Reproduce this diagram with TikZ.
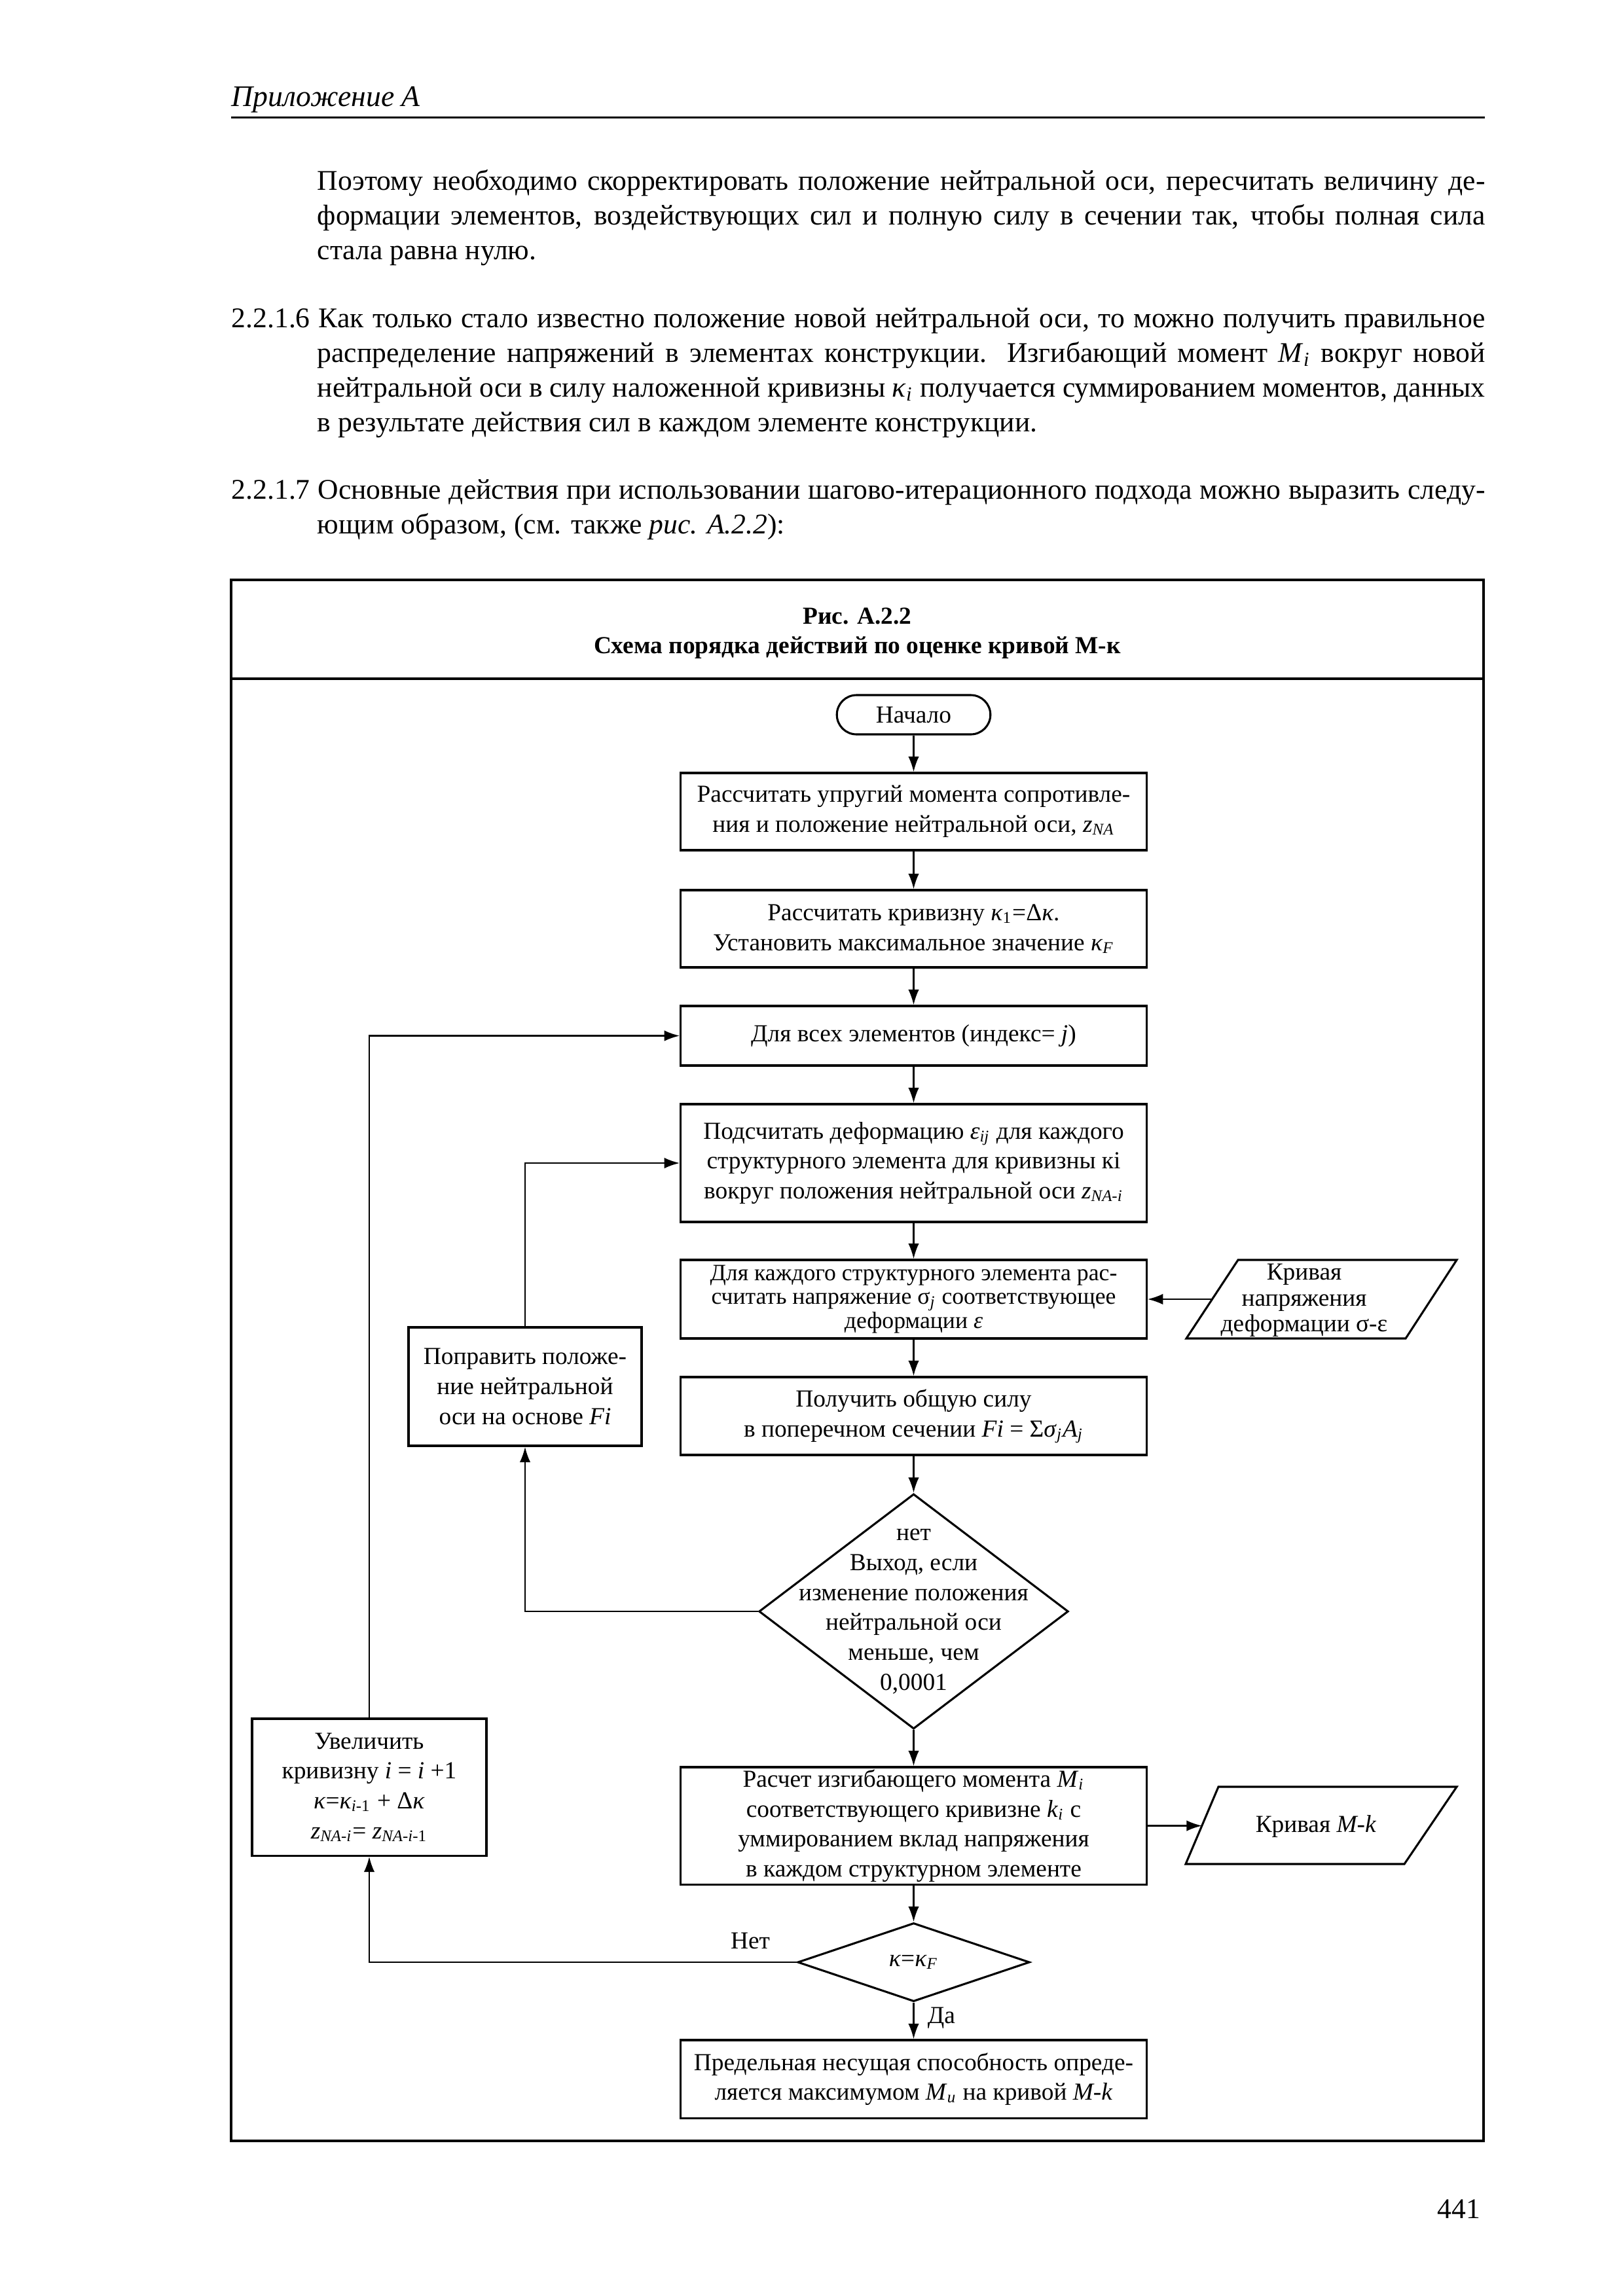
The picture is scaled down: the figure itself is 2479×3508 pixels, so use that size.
\documentclass[tikz,border=0pt]{standalone}
\usepackage{fontspec}
\setmainfont{Liberation Serif}
\usetikzlibrary{shapes.geometric, arrows.meta}
\newcommand\bxf{\fontsize{9}{11}\selectfont}
\newcommand\bodyf{\fontsize{10.5}{12.7}\selectfont}
\newcommand\va[1]{\textit{#1}}
\newcommand\sbs[1]{\textsubscript{#1}}
\newcommand\jline[2]{\makebox[#1][s]{#2}}
\tikzset{
  box/.style={draw, line width=0.75pt, rectangle, minimum width=60.24mm, inner sep=0pt, align=center, font=\bxf},
  dia/.style={draw, line width=0.75pt, diamond, inner sep=0pt},
  arr/.style={line width=0.6pt, -{Latex[length=2mm,width=1.4mm]}},
  ln/.style={line width=0.75pt},
  txt/.style={anchor=base west, inner sep=0pt, font=\bodyf},
  lbl/.style={inner sep=0pt, align=center, font=\bxf}
}
\begin{document}
\begin{tikzpicture}[x=0.084667mm, y=-0.084667mm]
\useasboundingbox (0,0) rectangle (2479,3508);

% header
\node[anchor=base west, inner sep=0pt, font=\fontsize{11}{13}\selectfont\itshape] (hdr) at (353,162) {Приложение А};
\draw[line width=0.65pt] (353,179.3) -- (2268,179.3);

% paragraph 1
\node[txt] (l1) at (484,290) {\jline{151.04mm}{Поэтому необходимо скорректировать положение нейтральной оси, пересчитать величину де-}};
\node[txt] (l2) at (484,343) {\jline{151.04mm}{формации элементов, воздействующих сил и полную силу в сечении так, чтобы полная сила}};
\node[txt] (l3) at (484,396) {стала равна нулю.};

% paragraph 2
\node[txt] (l4) at (353,500) {\jline{162.14mm}{2.2.1.6 Как только стало известно положение новой нейтральной оси, то можно получить правильное}};
\node[txt] (l5) at (484,553) {\jline{151.04mm}{распределение напряжений в элементах конструкции. Изгибающий момент \va{M}\sbs{\va{i}} вокруг новой}};
\node[txt] (l6) at (484,606) {\jline{151.04mm}{нейтральной оси в силу наложенной кривизны \va{κ}\sbs{\va{i}} получается суммированием моментов, данных}};
\node[txt] (l7) at (484,659) {в результате действия сил в каждом элементе конструкции.};

% paragraph 3
\node[txt] (l8) at (353,762) {\jline{162.14mm}{2.2.1.7 Основные действия при использовании шагово-итерационного подхода можно выразить следу-}};
\node[txt] (l9) at (484,815) {ющим образом, (см. также \va{рис. А.2.2}):};

% frame
\draw[line width=1pt] (353,886) rectangle (2266,3271);
\draw[line width=1pt] (353,1037) -- (2266,1037);
\node[anchor=base, inner sep=0pt, font=\bxf\bfseries] (tt1) at (1309.5,953) {Рис. А.2.2};
\node[anchor=base, inner sep=0pt, font=\bxf\bfseries] (tt2) at (1309.5,998) {Схема порядка действий по оценке кривой М-к};

% flowchart nodes
\node[box, minimum width=19.86mm, minimum height=5.08mm, rounded corners=2.54mm] (start) at (1395.5,1092) {Начало};
\node[box, minimum height=9.99mm] (b1) at (1395.5,1240) {Рассчитать упругий момента сопротивле-\\ния и положение нейтральной оси, \va{z}\sbs{\va{NA}}};
\node[box, minimum height=9.99mm] (b2) at (1395.5,1419) {Рассчитать кривизну \va{κ}\sbs{1}=Δ\va{κ}.\\Установить максимальное значение \va{κ}\sbs{\va{F}}};
\node[box, minimum height=7.70mm] (b3) at (1395.5,1582.5) {Для всех элементов (индекс= \va{j})};
\node[box, minimum height=15.24mm] (b4) at (1395.5,1777) {Подсчитать деформацию \va{ε}\sbs{\va{ij}} для каждого\\структурного элемента для кривизны кi\\вокруг положения нейтральной оси \va{z}\sbs{\va{NA-i}}};
\node[box, minimum height=10.16mm, font=\fontsize{8.6}{8.8}\selectfont] (b5) at (1395.5,1985) {Для каждого структурного элемента рас-\\считать напряжение σ\sbs{\va{j}} соответствующее\\деформации \va{ε}};
\node[box, minimum height=10.08mm] (b6) at (1395.5,2163.5) {Получить общую силу\\в поперечном сечении \va{Fi} = Σ\va{σ}\sbs{\va{j}}\va{A}\sbs{\va{j}}};
\node[dia, minimum width=40.01mm, minimum height=30.40mm] (d1) at (1395.5,2462) {};
\node[lbl] (d1t) at (d1) {нет\\Выход, если\\изменение положения\\нейтральной оси\\меньше, чем\\0,0001};
\node[box, minimum height=15.16mm] (b7) at (1395.5,2789.5) {Расчет изгибающего момента \va{M}\sbs{\va{i}}\\соответствующего кривизне \va{k}\sbs{\va{i}} с\\уммированием вклад напряжения\\в каждом структурном элементе};
\node[dia, minimum width=30.01mm, minimum height=10.16mm] (d2) at (1395.5,2998) {};
\node[lbl] (d2t) at (d2) {\va{κ}=\va{κ}\sbs{\va{F}}};
\node[box, minimum height=10.08mm] (b8) at (1395.5,3176.5) {Предельная несущая способность опреде-\\ляется максимумом \va{M}\sbs{\va{u}} на кривой \va{M-k}};

\node[box, minimum width=30.14mm, minimum height=15.32mm] (corr) at (802,2118.5) {Поправить положе-\\ние нейтральной\\оси на основе \va{Fi}};
\node[box, minimum width=30.31mm, minimum height=17.70mm] (inc) at (564,2730.5) {Увеличить\\кривизну \va{i} = \va{i} +1\\\va{κ}=\va{κ}\sbs{\va{i}-1} + Δ\va{κ}\\\va{z}\sbs{\va{NA-i}}= \va{z}\sbs{\va{NA-i}-1}};

% parallelograms
\draw[ln] (1891,1925) -- (2225,1925) -- (2147,2045) -- (1812,2045) -- cycle;
\node[lbl, font=\fontsize{9}{9.5}\selectfont] (p1) at (1992,1987) {Кривая\\напряжения\\деформации σ-ε};
\coordinate (p1w) at (1851.5,1985);
\draw[ln] (1861,2730) -- (2225,2730) -- (2145,2848) -- (1811,2848) -- cycle;
\node[lbl] (p2) at (2010,2790) {Кривая \va{M-k}};
\coordinate (p2w) at (1836,2789.5);

% connectors
\draw[arr] (start.south) -- (b1.north);
\draw[arr] (b1.south) -- (b2.north);
\draw[arr] (b2.south) -- (b3.north);
\draw[arr] (b3.south) -- (b4.north);
\draw[arr] (b4.south) -- (b5.north);
\draw[arr] (p1w) -- (b5.east);
\draw[arr] (b5.south) -- (b6.north);
\draw[arr] (b6.south) -- (d1.north);
\draw[arr] (d1.west) -| (corr.south);
\draw[arr] (corr.north) |- (b4.west);
\draw[arr] (d1.south) -- (b7.north);
\draw[arr] (b7.east) -- (p2w);
\draw[arr] (b7.south) -- (d2.north);
\draw[arr] (d2.west) -| (inc.south);
\draw[arr] (inc.north) |- (b3.west);
\draw[arr] (d2.south) -- (b8.north);
\node[lbl] (net) at (1146,2965) {Нет};
\node[lbl] (da) at (1438,3083) {Да};

% page number
\node[anchor=base east, inner sep=0pt, font=\bodyf] (pg) at (2262,3389) {441};
\end{tikzpicture}
\end{document}
